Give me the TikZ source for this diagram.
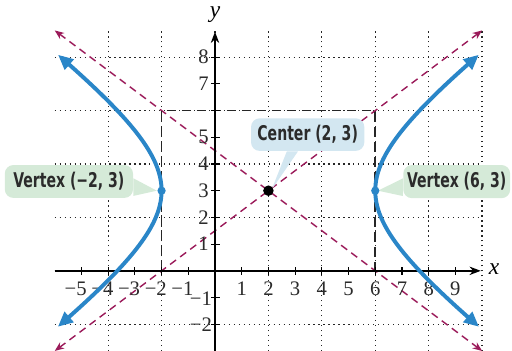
\documentclass[tikz,border=0pt]{standalone}
\usepackage{fontspec}
\setmainfont{Liberation Serif}
\newfontfamily\calloutfont{DejaVu Sans Condensed}
\usetikzlibrary{arrows.meta}
\definecolor{hypblue}{HTML}{2A86C8}
\definecolor{asymcol}{HTML}{9B1B5A}
\definecolor{bluebox}{HTML}{D3E7F1}
\definecolor{greenbox}{HTML}{D5EAD8}
\definecolor{txtcol}{HTML}{2B2B2B}
\tikzset{
  gridline/.style={dotted, line width=0.65pt, black!85},
  axisline/.style={line width=0.75pt, black},
  tickline/.style={line width=0.65pt, black},
  ticklabel/.style={font=\fontsize{11}{12}\selectfont, inner sep=0pt, text=txtcol},
  boxdash/.style={dash pattern=on 5pt off 3pt, line width=0.85pt, black!85},
  asym/.style={dash pattern=on 4pt off 2.7pt, line width=0.75pt, asymcol, {Stealth[length=5pt,width=4pt]}-{Stealth[length=5pt,width=4pt]}},
  hyp/.style={line width=2.1pt, hypblue, {Triangle[length=8pt,width=7pt]}-{Triangle[length=8pt,width=7pt]}},
  callout/.style={rounded corners=0.16cm, inner sep=0pt, text=txtcol, font=\calloutfont\bfseries\fontsize{10.8}{12}\selectfont},
  bluecall/.style={callout, fill=bluebox},
  greencall/.style={callout, fill=greenbox},
  vdot/.style={circle, fill=hypblue, inner sep=0pt, minimum size=4.4pt},
  cdot/.style={circle, fill=black, inner sep=0pt, minimum size=5.6pt}
}
\begin{document}
\begin{tikzpicture}[x=0.5cm,y=0.5cm]
\useasboundingbox (-8.05,-2.97) rectangle (11.12,10.14);
% grid
\draw[gridline] (-6,-3) grid (10,9);
% asymptotes
\coordinate (A1) at (-6,-3);
\coordinate (A2) at (10,9);
\coordinate (A3) at (-6,9);
\coordinate (A4) at (10,-3);
\draw[asym] (A1) -- (A2);
\draw[asym] (A3) -- (A4);
% callouts
\coordinate (C) at (2,3);
\coordinate (VL) at (-2,3);
\coordinate (VR) at (6,3);
\node[bluecall, minimum width=2.12cm, minimum height=0.61cm] (cc) at (3.47,5.1) {\scalebox{0.77}[1]{Center (2, 3)}};
\fill[bluebox] ([xshift=-0.39cm]cc.south) -- ([xshift=-0.18cm]cc.south) -- ([shift={(0.06cm,0.02cm)}]C) -- cycle;
\node[greencall, minimum width=2.4cm, minimum height=0.615cm] (vl) at (-5.47,3.345) {\scalebox{0.77}[1]{Vertex (−2, 3)}};
\fill[greenbox] ([yshift=0.06cm]vl.east) -- ([yshift=-0.27cm]vl.east) -- ([xshift=-0.09cm]VL) -- cycle;
\node[greencall, minimum width=2.0cm, minimum height=0.62cm] (vr) at (9.05,3.34) {\scalebox{0.77}[1]{Vertex (6, 3)}};
\fill[greenbox] ([yshift=0.06cm]vr.west) -- ([yshift=-0.27cm]vr.west) -- ([xshift=0.05cm]VR) -- cycle;
% dashed box
\coordinate (B1) at (-2,0);
\coordinate (B2) at (-2,6);
\coordinate (B3) at (6,6);
\coordinate (B4) at (6,0);
\draw[boxdash] (B1) -- (B2) -- (B3) -- (B4);
% axes
\coordinate (XL) at (-6,0);
\coordinate (XR) at (9.95,0);
\coordinate (YB) at (0,-3.1);
\coordinate (YT) at (0,8.95);
\draw[axisline, -{Stealth[length=6pt,width=4.5pt]}] (XL) -- (XR);
\draw[axisline, -{Stealth[length=6pt,width=4.5pt]}] (YB) -- (YT);
\node[font=\fontsize{12.5}{13}\itshape, inner sep=0pt] (xlab) at (10.45,0.05) {x};
\node[font=\fontsize{12.5}{13}\itshape, inner sep=0pt] (ylab) at (0,9.6) {y};
% ticks and labels
\foreach \i in {-5,...,-1} {
  \draw[tickline] (\i,-0.14) -- (\i,0.14);
  \node[ticklabel] at (\i,-0.68) {\llap{−}\the\numexpr-\i\relax};
}
\foreach \i in {1,...,9} {
  \draw[tickline] (\i,-0.14) -- (\i,0.14);
  \node[ticklabel] at (\i,-0.68) {\i};
}
\foreach \j in {-2,-1,1,2,...,8} {
  \draw[tickline] (-0.14,\j) -- (0.18,\j);
}
\foreach \j in {1,2,3,4,5,7,8} {
  \node[ticklabel, anchor=east] at (-0.22,\j) {\j};
}
\foreach \j in {1,2} {
  \node[ticklabel, anchor=east] at (-0.1,-\j-0.03) {−\j};
}
% hyperbola
\draw[hyp] plot[domain=-1.3:1.3, samples=80, smooth, variable=\t] ({2-4*cosh(\t)},{3+3*sinh(\t)});
\draw[hyp] plot[domain=-1.3:1.3, samples=80, smooth, variable=\t] ({2+4*cosh(\t)},{3+3*sinh(\t)});
% points
\node[vdot] (pl) at (VL) {};
\node[vdot] (pr) at (VR) {};
\node[cdot] (pc) at (C) {};
\end{tikzpicture}
\end{document}
